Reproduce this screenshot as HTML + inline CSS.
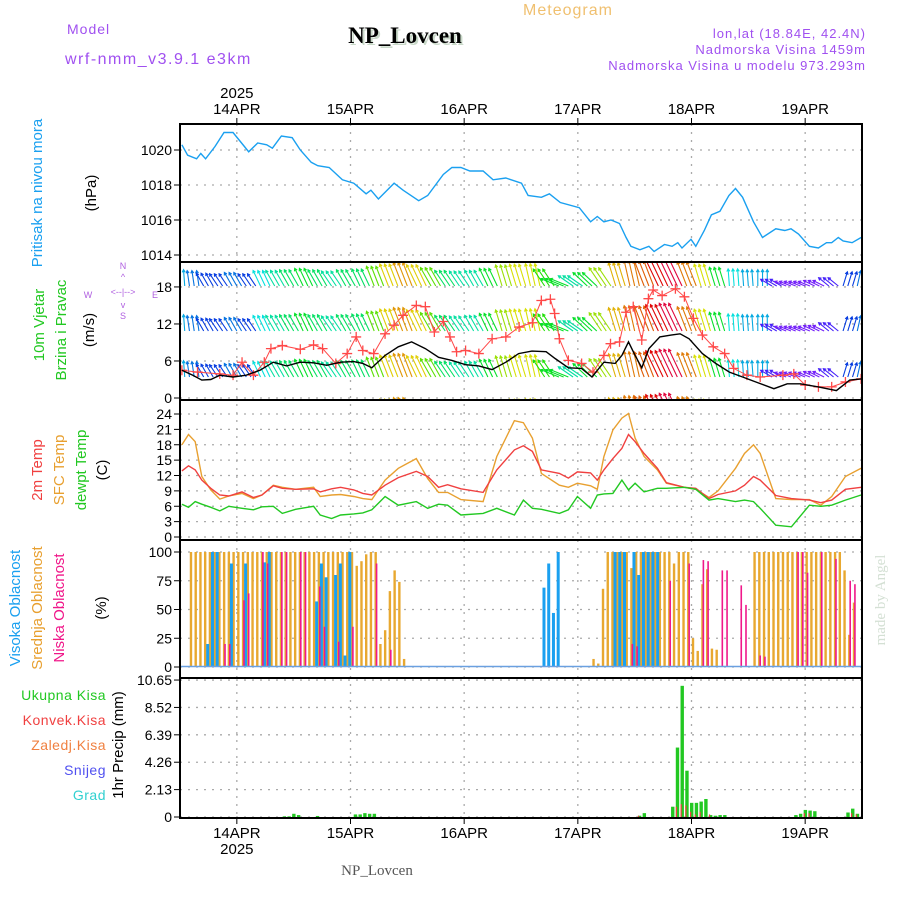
<!DOCTYPE html>
<html><head><meta charset="utf-8">
<style>
body{margin:0;background:#fff;}
svg{display:block;font-family:"Liberation Sans",sans-serif;}
</style></head>
<body>
<svg id="chart" width="900" height="900" viewBox="0 0 900 900" xmlns="http://www.w3.org/2000/svg">
<rect width="900" height="900" fill="#fff"/>
<text x="568" y="15" font-size="16" fill="#f0c070" text-anchor="middle" letter-spacing="1">Meteogram</text>
<text x="67" y="34" font-size="14" fill="#a050f0" letter-spacing="1">Model</text>
<text x="65" y="64" font-size="16" fill="#a050f0" letter-spacing="1.5">wrf-nmm_v3.9.1 e3km</text>
<text x="407" y="45" font-size="23" font-weight="bold" fill="#c8d8c8" text-anchor="middle" font-family="Liberation Serif,serif">NP_Lovcen</text>
<text x="405" y="43" font-size="23" font-weight="bold" fill="#000" text-anchor="middle" font-family="Liberation Serif,serif">NP_Lovcen</text>
<text x="866" y="38" font-size="13" fill="#a050f0" text-anchor="end" letter-spacing="1">lon,lat (18.84E, 42.4N)</text>
<text x="866" y="54" font-size="13" fill="#a050f0" text-anchor="end" letter-spacing="1">Nadmorska Visina 1459m</text>
<text x="866" y="70" font-size="13" fill="#a050f0" text-anchor="end" letter-spacing="1">Nadmorska Visina u modelu 973.293m</text>

<g font-size="15">
<text transform="translate(42,193) rotate(-90)" text-anchor="middle" fill="#1aa0f0">Pritisak na nivou mora</text>
<text transform="translate(96,193) rotate(-90)" text-anchor="middle" fill="#000">(hPa)</text>
<text transform="translate(44,325) rotate(-90)" text-anchor="middle" fill="#22c822">10m Vjetar</text>
<text transform="translate(66,330) rotate(-90)" text-anchor="middle" fill="#22c822">Brzina i Pravac</text>
<text transform="translate(94,330) rotate(-90)" text-anchor="middle" fill="#000">(m/s)</text>
<text transform="translate(42,470) rotate(-90)" text-anchor="middle" fill="#f04040">2m Temp</text>
<text transform="translate(64,470) rotate(-90)" text-anchor="middle" fill="#e8a030">SFC Temp</text>
<text transform="translate(86,470) rotate(-90)" text-anchor="middle" fill="#22c822">dewpt Temp</text>
<text transform="translate(107,470) rotate(-90)" text-anchor="middle" fill="#000">(C)</text>
<text transform="translate(20,608) rotate(-90)" text-anchor="middle" fill="#1aa0f0">Visoka Oblacnost</text>
<text transform="translate(42,608) rotate(-90)" text-anchor="middle" fill="#e8a030">Srednja Oblacnost</text>
<text transform="translate(64,608) rotate(-90)" text-anchor="middle" fill="#f0188a">Niska Oblacnost</text>
<text transform="translate(106,608) rotate(-90)" text-anchor="middle" fill="#000">(%)</text>
<text transform="translate(123,745) rotate(-90)" text-anchor="middle" fill="#000">1hr Precip (mm)</text>
</g>
<g font-size="14" text-anchor="end" letter-spacing="0.5">
<text x="106" y="700" fill="#22c822">Ukupna Kisa</text>
<text x="106" y="725" fill="#f04040">Konvek.Kisa</text>
<text x="106" y="750" fill="#f08040">Zaledj.Kisa</text>
<text x="106" y="775" fill="#5050f0">Snijeg</text>
<text x="106" y="800" fill="#30d0d0">Grad</text>
</g>
<g fill="#b060e0" font-size="9" text-anchor="middle">
<text x="123" y="269">N</text><text x="123" y="280">^</text>
<text x="123" y="295">&lt;--|--&gt;</text><text x="88" y="298">W</text><text x="155" y="298">E</text>
<text x="123" y="308">v</text><text x="123" y="319">S</text>
</g>
<text transform="translate(885,600) rotate(-90)" text-anchor="middle" font-size="15" fill="#d4e0d4" font-family="Liberation Serif,serif">made by Angel</text>
<text x="377" y="875" text-anchor="middle" font-size="15" fill="#555" font-family="Liberation Serif,serif">NP_Lovcen</text>
<g id="plot"></g>
</svg>
<script>
// ---- data ----
const dayLabels = ["14APR","15APR","16APR","17APR","18APR","19APR"];
const dayHours = [12,36,60,84,108,132];
const pTicks = [1014,1016,1018,1020];
const wTicks = [0,6,12,18];
const tTicks = [0,3,6,9,12,15,18,21,24];
const cTicks = [0,25,50,75,100];
const rTicks = [0,2.13,4.26,6.39,8.52,10.65];

const pHours = [0.4,1.6,3.5,4.4,5.4,7.4,9.3,11.2,13.6,14.5,16.4,18.3,19.5,21.4,23.7,25.4,27.7,29.1,31.5,34.3,36.7,39.3,40.3,41.9,45.2,47.1,50.4,52.3,55.6,57.4,59.3,61.2,64.0,66.1,68.8,72.1,73.5,76.3,78.0,80.3,84.3,86.7,88.1,89.5,91.0,92.8,94.2,95.2,97.1,99.0,100.1,102.3,103.9,105.1,106.0,107.9,108.9,110.7,112.2,114.0,115.9,117.3,118.8,121.1,123.0,125.8,127.7,129.0,130.6,132.9,134.8,136.5,137.6,139.0,140.0,141.9,143.8];
const pValues = [1020.3,1019.7,1019.5,1019.8,1019.5,1020.2,1021.0,1021.0,1020.2,1019.9,1020.4,1020.3,1020.1,1020.8,1020.7,1020.0,1019.3,1019.1,1019.0,1018.3,1018.1,1017.5,1017.7,1017.2,1018.1,1017.7,1017.1,1017.4,1018.6,1019.0,1019.0,1018.8,1018.8,1018.3,1018.4,1018.1,1017.4,1017.3,1017.5,1017.0,1016.7,1015.9,1016.2,1015.9,1016.0,1015.8,1015.0,1014.5,1014.3,1014.5,1014.2,1014.6,1014.5,1014.7,1014.4,1014.9,1014.5,1015.4,1016.3,1016.5,1017.4,1017.8,1017.3,1015.9,1015.0,1015.5,1015.4,1015.5,1015.2,1014.5,1014.4,1014.7,1014.7,1015.0,1014.8,1014.7,1015.0];

const tHours = [0.4,1.8,3.2,4.6,6.5,8.4,10.3,13.1,15.5,17.3,19.7,21.6,24.4,28.2,29.6,32,33.9,36.7,38.6,40.5,43.3,46.1,49.9,52.3,54.6,56.5,59.3,64.0,66.9,70.6,72.5,74.4,76.3,80.1,82,83.9,86.7,88.1,89.5,91.4,93.3,94.7,96.1,98,100.8,102.7,106.5,108.9,111.7,113.6,117.3,119.2,121.1,122.5,125.8,129.1,132.9,135.3,137.6,140.5,143.8];
const temp2m = [12.9,13.9,13.1,11.1,9.5,8.2,8.0,8.8,7.7,8.2,10.0,9.5,9.3,9.4,8.8,9.4,9.7,9.2,8.5,8.2,10.1,11.6,12.8,11.8,9.7,10.2,9.4,8.7,13.1,17.0,17.8,16.7,13.1,12.4,11.5,12.7,12.5,11.1,13.1,15.3,17.3,20.0,18.6,16.3,13.4,10.6,9.7,9.5,7.5,8.3,9.0,10.1,11.8,11.1,8.1,7.5,7.2,6.7,7.2,9.3,9.7];
const tempSfc = [18.0,20.0,18.6,11.8,9.2,7.4,8.0,8.5,7.5,8.2,10.1,9.7,9.3,9.7,7.9,8.2,8.3,7.9,7.5,7.3,11.1,13.4,15.3,11.4,8.7,8.7,7.3,6.9,15.7,22.7,22.3,19.3,12.4,10.1,9.7,10.5,10.0,9.3,15.7,20.9,23.2,24.1,19.3,15.7,13.1,10.5,9.7,9.3,7.7,9.0,13.4,16.3,18.0,16.3,7.5,7.3,7.3,6.2,7.9,11.8,13.4];
const tempDew = [6.4,5.8,6.9,6.4,5.8,5.1,6.0,5.6,5.3,5.9,6.0,4.6,5.4,6.0,4.3,3.6,4.3,4.5,4.7,5.3,7.9,6.2,6.9,5.6,6.4,6.2,4.3,4.6,5.6,4.3,7.2,5.6,5.4,4.6,5.3,7.9,5.6,8.2,8.4,8.5,11.1,9.2,10.5,8.8,9.5,9.5,9.7,9.3,7.2,7.5,6.9,7.2,6.9,5.6,2.3,2.0,6.2,6.0,6.2,7.2,8.2];

const wsHours = [0.4,2.7,4.6,6.5,8.4,11.2,14.0,16.9,19.7,22.5,25.4,28.2,31.0,33.9,36.7,38.6,40.5,43.3,46.1,48.9,51.8,54.6,57.4,60.3,63.1,65.9,68.8,71.5,74.3,77.3,79.2,82.0,84.8,87.0,89.5,91.9,93.3,94.7,96.1,97.5,99.0,101.3,103.7,105.6,107.5,110.3,113.1,116.0,118.8,121.6,125.4,128.2,131.0,134.8,138.6,141.4,143.8];
const windSpeed = [4.5,3.7,2.9,3.0,3.7,3.4,3.7,4.5,5.8,5.2,5.8,5.7,5.3,5.8,5.9,5.6,4.9,6.9,8.3,9.1,8.0,6.6,6.1,5.4,5.2,4.6,5.8,7.2,7.6,7.5,6.4,4.9,4.8,3.4,5.8,5.6,6.9,9.1,6.9,4.9,8.0,9.9,10.2,10.4,9.6,7.2,5.6,4.2,3.4,2.6,1.5,2.3,2.3,1.8,1.2,2.9,3.1];
const gHours = [0.4,3.7,8.4,11.2,13.1,15.5,17.8,19.2,21.6,25.4,28.2,30.1,32.9,35.3,37.2,38.6,40.9,43.3,45.2,47.1,49.9,51.8,53.7,55.6,57.0,58.4,60.3,63.1,65.9,68.8,71.6,74.4,76.3,78.2,79.1,80.1,82.0,84.8,87.2,89.5,90.9,92.8,94.2,95.7,97.5,98.9,99.9,101.8,104.6,106.5,108.4,110.3,112.6,115.0,116.9,119.7,122.5,127.3,129.6,132.0,134.8,137.6,140.5,143.8];
const windGust = [4.5,4.2,3.9,3.7,5.8,3.7,5.8,8.0,8.5,7.9,8.6,8.0,5.6,7.2,9.9,7.7,7.2,10.4,11.8,13.4,15.0,14.8,10.7,12.4,9.9,7.5,7.7,7.2,9.6,9.9,11.5,12.2,15.8,16.0,13.7,9.6,6.1,5.6,4.2,6.9,8.8,9.1,13.9,14.8,9.4,16.1,17.5,16.6,17.7,16.4,12.9,10.2,8.3,7.2,4.8,3.7,3.4,3.7,3.9,2.1,1.8,1.8,2.6,3.1];

// 3-hourly arrow data (direction arrow points: 0 = up, negative = left)
const arrowDir = [-5,-10,-35,-40,-35,-40,-30,-35,-35,-30,-35,-40,-35,-30,-25,-25,-25,-30,-35,-40,-40,-35,-30,-20,-20,-15,-40,-80,-65,-55,-40,-20,-15,-25,-30,-30,-25,-20,-20,-5,-5,0,-70,-80,-80,-75,-60,20,15];
const arrowSpd = [4,3.5,3,3,3.5,3,4.5,5,5.5,6,5.5,5,5.5,5.5,7,8.5,9.5,8.5,7,5.5,5,5,6,7.5,8,8,6.5,6,5,6,7.5,9,10,10.5,12,13,10,8,6,4.5,4,4,2,1.5,1.5,1.5,2,3,3.5];

// hourly cloud cover (%), h = 0..144
const cloudMid = [0,0,100,100,100,100,100,100,100,100,100,100,100,100,100,100,100,100,100,100,100,100,100,100,100,100,100,100,100,100,100,100,100,100,100,100,100,88,92,98,100,100,20,32,66,84,74,7,0,0,0,0,0,0,0,0,0,0,0,0,0,0,0,0,0,0,0,0,0,0,0,0,0,0,0,0,0,0,0,0,0,0,0,0,0,0,0,7,3,68,100,100,100,100,100,86,100,100,100,100,100,100,100,100,90,100,100,100,25,14,72,85,16,15,0,0,0,0,0,0,0,100,100,100,100,100,100,100,100,100,100,100,100,100,100,100,100,100,100,100,84,28,56,0,0];
const cloudHigh = [0,0,0,0,0,0,20,100,100,0,0,90,0,0,90,0,0,0,91,100,0,0,0,0,0,0,0,0,0,57,90,78,0,80,90,10,100,0,0,0,0,0,0,0,0,0,0,0,0,0,0,0,0,0,0,0,0,0,0,0,0,0,0,0,0,0,0,0,0,0,0,0,0,0,0,0,0,69,90,47,100,0,0,0,0,0,0,0,0,0,0,0,100,100,100,0,100,80,100,100,100,100,0,0,0,0,0,0,0,0,0,0,0,0,0,0,0,0,0,0,0,0,0,0,0,0,0,0,0,0,0,0,0,0,0,0,0,0,0,0,0,0,0,0,0];
const cloudLow = [0,0,0,0,0,0,0,0,0,20,20,0,0,58,64,0,0,100,90,0,0,100,100,0,0,100,100,0,0,70,35,0,0,22,0,0,35,0,0,0,0,90,0,0,15,0,0,0,0,0,0,0,0,0,0,0,0,0,0,0,0,0,0,0,0,0,0,0,0,0,0,0,0,0,0,0,0,0,0,0,0,0,0,0,0,0,0,0,0,0,0,0,0,0,0,20,18,0,0,0,0,0,0,75,0,0,0,90,0,0,93,92,0,0,84,84,0,0,71,54,0,0,10,9,0,0,0,0,0,0,100,100,82,0,0,100,0,0,94,0,0,75,72,0,0];

const rHours = [22,23,24,25,29,37,38,39,40,41,97,98,104,105,106,107,108,109,110,111,112,113,114,115,130,131,132,133,134,141,142,143];
const rainTotal = [0.05,0.05,0.25,0.15,0.08,0.2,0.2,0.3,0.25,0.25,0.1,0.3,0.8,5.4,10.2,3.6,1.1,1.1,1.2,1.4,0.15,0.1,0.15,0.15,0.15,0.25,0.55,0.5,0.45,0.35,0.65,0.25];
const rainConv = [0,0,0,0,0,0,0,0,0,0,0.1,0,0,0.8,1.0,0.9,0.4,0.2,0.4,0,0.2,0,0,0,0,0,0.3,0.3,0,0,0.3,0.2];

// ---- scales ----
const X0=180, X1=862, HMAX=144;
const xS = h => X0 + h*(X1-X0)/HMAX;
const yP = v => 255 - (v-1014)*17.5;
const yW = v => 398 - v*6.17;
const yT = v => 537 - v*5.125;
const yC = v => 667 - v*1.15;
const yR = v => 817 - v*12.86;
const panels = [[124,262],[262,400],[400,540],[540,678],[678,818]];

const NS="http://www.w3.org/2000/svg";
const plot=document.getElementById('plot');
function mk(tag, attrs, parent){const e=document.createElementNS(NS,tag);for(const k in attrs)e.setAttribute(k,attrs[k]);(parent||plot).appendChild(e);return e;}

const defs=mk('defs',{});
panels.forEach((p,i)=>{const c=mk('clipPath',{id:'clip'+i},defs);mk('rect',{x:X0,y:p[0],width:X1-X0,height:p[1]-p[0]},c);});

const grid=mk('g',{stroke:'#aaa','stroke-width':1.3,'stroke-dasharray':'2,6'});


dayHours.forEach(h=>{mk('line',{x1:xS(h),x2:xS(h),y1:124,y2:818},grid);});
function hgrid(ticks, f){ticks.forEach(t=>{mk('line',{x1:X0,x2:X1,y1:f(t),y2:f(t)},grid);});}
hgrid(pTicks,yP);hgrid(wTicks,yW);hgrid(tTicks,yT);hgrid(cTicks,yC);hgrid(rTicks,yR);

function yLabels(ticks,f,name){const g=mk('g',{'font-size':14,'text-anchor':'end',fill:'#000'});


ticks.forEach(t=>{const tx=mk('text',{x:172,y:f(t)+5},g);tx.textContent=String(t);mk('line',{x1:174,x2:180,y1:f(t),y2:f(t),stroke:'#000'},g);});}
yLabels(pTicks,yP,'pressure-y-ticks');yLabels(wTicks,yW,'wind-y-ticks');yLabels(tTicks,yT,'temp-y-ticks');yLabels(cTicks,yC,'cloud-y-ticks');yLabels(rTicks,yR,'precip-y-ticks');

const xl=mk('g',{'font-size':15,'text-anchor':'middle',fill:'#000'});


dayLabels.forEach((d,i)=>{const x=xS(dayHours[i]);
 let t=mk('text',{x:x,y:114},xl);t.textContent=d;
 t=mk('text',{x:x,y:838},xl);t.textContent=d;
 mk('line',{x1:x,x2:x,y1:118,y2:124,stroke:'#000'},xl);
 mk('line',{x1:x,x2:x,y1:818,y2:824,stroke:'#000'},xl);});
let ty=mk('text',{x:xS(12),y:98},xl);ty.textContent='2025';
ty=mk('text',{x:xS(12),y:854},xl);ty.textContent='2025';

function line(hs,vs,f,color,clip,name,w){const d=hs.map((h,i)=>(i?'L':'M')+xS(h).toFixed(1)+','+f(vs[i]).toFixed(1)).join('');
 const p=mk('path',{d:d,fill:'none',stroke:color,'stroke-width':w||1.4,'clip-path':'url(#clip'+clip+')'});
 
 return p;}

line(pHours,pValues,yP,'#1aa0f0',0,'pressure-line');

function hueFor(s){const st=[[1,275],[3,225],[4,195],[6,130],[8,62],[10,32],[12,0],[14,-30]];
 if(s<=st[0][0])return st[0][1];for(let i=1;i<st.length;i++){if(s<=st[i][0]){const a=st[i-1],b=st[i];return a[1]+(b[1]-a[1])*(s-a[0])/(b[0]-a[0]);}}return st[st.length-1][1];}
const ag=mk('g',{'clip-path':'url(#clip1)','stroke-width':1.1,fill:'none'});


[286,331,377,421].forEach(base=>{
 for(let h=0;h<=HMAX;h++){const i=Math.min(arrowDir.length-1,Math.round(h/3));
  const a=arrowDir[i]*0.85*Math.PI/180, s=arrowSpd[i], L=1.6*s+10;
  const x=xS(h), x2=x+L*Math.sin(a), y2=base-L*Math.cos(a);
  let hu=hueFor(s); if(hu<0)hu+=360;
  const col='hsl('+hu.toFixed(0)+',95%,'+(s<2.5?'55%':'45%')+')';
  const ux=Math.sin(a),uy=-Math.cos(a),hl=3;
  const b1x=x2-hl*(ux*0.87-uy*0.5),b1y=y2-hl*(uy*0.87+ux*0.5);
  const b2x=x2-hl*(ux*0.87+uy*0.5),b2y=y2-hl*(uy*0.87-ux*0.5);
  const ar=mk('path',{d:`M${x},${base}L${x2},${y2}M${b1x},${b1y}L${x2},${y2}L${b2x},${b2y}`,stroke:col},ag);
  
  
 }});

line(gHours,windGust,yW,'#ff4848',1,'gust-line',1);
const gm=mk('g',{stroke:'#ff4848','stroke-width':1.3,'clip-path':'url(#clip1)'});


gHours.forEach((h,i)=>{const x=xS(h),y=yW(windGust[i]);mk('path',{d:`M${x-5},${y}h10M${x},${y-5}v10`},gm);});
line(wsHours,windSpeed,yW,'#000',1,'wind-speed-line',1.4);

line(tHours,tempSfc,yT,'#e8a030',2,'sfc-temp-line');
line(tHours,temp2m,yT,'#f04040',2,'temp-2m-line');
line(tHours,tempDew,yT,'#22c822',2,'dewpoint-line');

const cg=mk('g',{'clip-path':'url(#clip3)'});


function cbars(arr,color,off,w,name){arr.forEach((v,h)=>{if(v<=0)return;const x=xS(h)+off;
 const r=mk('rect',{x:x,y:yC(v),width:w,height:yC(0)-yC(v),fill:color},cg);
 
 });}
cbars(cloudMid,'#e8a830',0.3,2.4,'mid-cloud-bar');
cbars(cloudHigh,'#1aa0f0',-2.2,3,'high-cloud-bar');
cbars(cloudLow,'#f0188a',1.6,1.6,'low-cloud-bar');
mk('line',{x1:X0,x2:X1,y1:yC(0)-0.5,y2:yC(0)-0.5,stroke:'#6aa0e0','stroke-width':1.5});

const rg=mk('g',{'clip-path':'url(#clip4)'});


rHours.forEach((h,i)=>{const x=xS(h);
 const r=mk('rect',{x:x-1.5,y:yR(rainTotal[i]),width:3.4,height:yR(0)-yR(rainTotal[i]),fill:'#22c822'},rg);
 
 
 if(rainConv[i]>0){const c=mk('rect',{x:x-1.5,y:yR(rainConv[i]),width:1.2,height:yR(0)-yR(rainConv[i]),fill:'#f04040'},rg);
 
 }});

const fr=mk('g',{fill:'none',stroke:'#000','stroke-width':2});


panels.forEach(p=>{mk('rect',{x:X0,y:p[0],width:X1-X0,height:p[1]-p[0]},fr);});
</script>
</body></html>
